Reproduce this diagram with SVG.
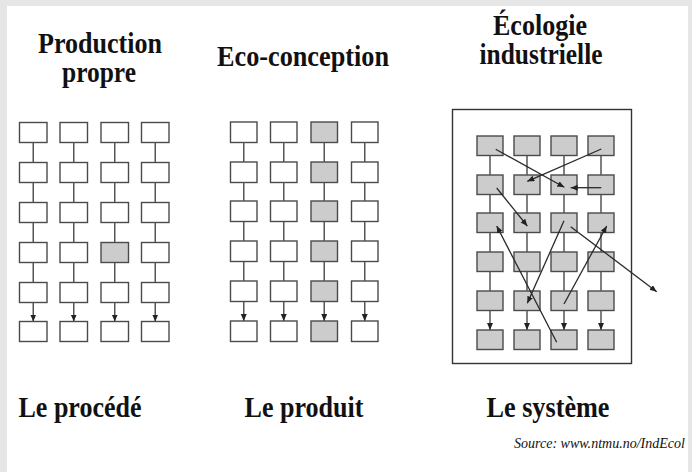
<svg xmlns="http://www.w3.org/2000/svg" width="692" height="472" viewBox="0 0 692 472">
<defs>
<style>
.b{fill:#ffffff;stroke:#4a4a4a;stroke-width:1.4}
.s{fill:#cccccc;stroke:#4a4a4a;stroke-width:1.4}
.v{stroke:#555555;stroke-width:1.5;fill:none}
.va{stroke:#555555;stroke-width:1.5;fill:none;marker-end:url(#ah)}
.x{stroke:#2a2a2a;stroke-width:1.3;fill:none;marker-end:url(#ah)}
.t{font-family:"Liberation Serif","Times New Roman",serif;font-weight:bold;font-size:28.5px;fill:#111111;text-anchor:middle}
.src{font-family:"Liberation Serif","Times New Roman",serif;font-style:italic;font-size:14px;fill:#111111}
</style>
<marker id="ah" markerUnits="userSpaceOnUse" markerWidth="8" markerHeight="7" refX="7" refY="3" orient="auto">
<path d="M0,0 L7,3 L0,6 z" fill="#222222"/>
</marker>
</defs>
<rect x="0" y="0" width="692" height="472" fill="#e6e6e6"/>
<rect x="7" y="6" width="681" height="466" fill="#ffffff"/>

<g id="titles">
<text class="t" x="100" y="53" textLength="124" lengthAdjust="spacingAndGlyphs">Production</text>
<text class="t" x="99" y="82" textLength="74" lengthAdjust="spacingAndGlyphs">propre</text>
<text class="t" x="303" y="66" textLength="172" lengthAdjust="spacingAndGlyphs">Eco-conception</text>
<text class="t" x="540" y="35" textLength="94" lengthAdjust="spacingAndGlyphs">Écologie</text>
<text class="t" x="541" y="64" textLength="123" lengthAdjust="spacingAndGlyphs">industrielle</text>
<text class="t" x="80" y="417" textLength="123" lengthAdjust="spacingAndGlyphs">Le procédé</text>
<text class="t" x="304" y="417" textLength="119" lengthAdjust="spacingAndGlyphs">Le produit</text>
<text class="t" x="548" y="417" textLength="123" lengthAdjust="spacingAndGlyphs">Le système</text>
<text class="src" x="514" y="448" textLength="171" lengthAdjust="spacingAndGlyphs">Source: www.ntmu.no/IndEcol</text>
</g>

<g id="procede">
<g id="p11"><rect class="b" x="19.5" y="122.5" width="27.5" height="20"/></g>
<g id="p12"><rect class="b" x="60" y="122.5" width="27.5" height="20"/></g>
<g id="p13"><rect class="b" x="101" y="122.5" width="27.5" height="20"/></g>
<g id="p14"><rect class="b" x="141.5" y="122.5" width="27.5" height="20"/></g>
<g id="p21"><rect class="b" x="19.5" y="162.5" width="27.5" height="20"/></g>
<g id="p22"><rect class="b" x="60" y="162.5" width="27.5" height="20"/></g>
<g id="p23"><rect class="b" x="101" y="162.5" width="27.5" height="20"/></g>
<g id="p24"><rect class="b" x="141.5" y="162.5" width="27.5" height="20"/></g>
<g id="p31"><rect class="b" x="19.5" y="202.5" width="27.5" height="20"/></g>
<g id="p32"><rect class="b" x="60" y="202.5" width="27.5" height="20"/></g>
<g id="p33"><rect class="b" x="101" y="202.5" width="27.5" height="20"/></g>
<g id="p34"><rect class="b" x="141.5" y="202.5" width="27.5" height="20"/></g>
<g id="p41"><rect class="b" x="19.5" y="242.5" width="27.5" height="20"/></g>
<g id="p42"><rect class="b" x="60" y="242.5" width="27.5" height="20"/></g>
<g id="p43"><rect class="s" x="101" y="242.5" width="27.5" height="20"/></g>
<g id="p44"><rect class="b" x="141.5" y="242.5" width="27.5" height="20"/></g>
<g id="p51"><rect class="b" x="19.5" y="282.5" width="27.5" height="20"/></g>
<g id="p52"><rect class="b" x="60" y="282.5" width="27.5" height="20"/></g>
<g id="p53"><rect class="b" x="101" y="282.5" width="27.5" height="20"/></g>
<g id="p54"><rect class="b" x="141.5" y="282.5" width="27.5" height="20"/></g>
<g id="p61"><rect class="b" x="19.5" y="321.5" width="27.5" height="20"/></g>
<g id="p62"><rect class="b" x="60" y="321.5" width="27.5" height="20"/></g>
<g id="p63"><rect class="b" x="101" y="321.5" width="27.5" height="20"/></g>
<g id="p64"><rect class="b" x="141.5" y="321.5" width="27.5" height="20"/></g>
</g>

<g id="produit">
<g id="m11"><rect class="b" x="230.5" y="122" width="26.5" height="20.5"/></g>
<g id="m12"><rect class="b" x="270.5" y="122" width="26.5" height="20.5"/></g>
<g id="m13"><rect class="s" x="311" y="122" width="26.5" height="20.5"/></g>
<g id="m14"><rect class="b" x="351.5" y="122" width="26.5" height="20.5"/></g>
<g id="m21"><rect class="b" x="230.5" y="162" width="26.5" height="20.5"/></g>
<g id="m22"><rect class="b" x="270.5" y="162" width="26.5" height="20.5"/></g>
<g id="m23"><rect class="s" x="311" y="162" width="26.5" height="20.5"/></g>
<g id="m24"><rect class="b" x="351.5" y="162" width="26.5" height="20.5"/></g>
<g id="m31"><rect class="b" x="230.5" y="201" width="26.5" height="20.5"/></g>
<g id="m32"><rect class="b" x="270.5" y="201" width="26.5" height="20.5"/></g>
<g id="m33"><rect class="s" x="311" y="201" width="26.5" height="20.5"/></g>
<g id="m34"><rect class="b" x="351.5" y="201" width="26.5" height="20.5"/></g>
<g id="m41"><rect class="b" x="230.5" y="241" width="26.5" height="20.5"/></g>
<g id="m42"><rect class="b" x="270.5" y="241" width="26.5" height="20.5"/></g>
<g id="m43"><rect class="s" x="311" y="241" width="26.5" height="20.5"/></g>
<g id="m44"><rect class="b" x="351.5" y="241" width="26.5" height="20.5"/></g>
<g id="m51"><rect class="b" x="230.5" y="281" width="26.5" height="20.5"/></g>
<g id="m52"><rect class="b" x="270.5" y="281" width="26.5" height="20.5"/></g>
<g id="m53"><rect class="s" x="311" y="281" width="26.5" height="20.5"/></g>
<g id="m54"><rect class="b" x="351.5" y="281" width="26.5" height="20.5"/></g>
<g id="m61"><rect class="b" x="230.5" y="321" width="26.5" height="20.5"/></g>
<g id="m62"><rect class="b" x="270.5" y="321" width="26.5" height="20.5"/></g>
<g id="m63"><rect class="s" x="311" y="321" width="26.5" height="20.5"/></g>
<g id="m64"><rect class="b" x="351.5" y="321" width="26.5" height="20.5"/></g>
</g>

<g id="systeme">
<g id="frame"><rect x="452.5" y="109.5" width="179" height="254" fill="none" stroke="#333333" stroke-width="1.4"/></g>
<g id="s11"><rect class="s" x="477" y="136" width="26" height="19.5"/></g>
<g id="s12"><rect class="s" x="514" y="136" width="26" height="19.5"/></g>
<g id="s13"><rect class="s" x="551" y="136" width="26" height="19.5"/></g>
<g id="s14"><rect class="s" x="588" y="136" width="26" height="19.5"/></g>
<g id="s21"><rect class="s" x="477" y="175" width="26" height="19.5"/></g>
<g id="s22"><rect class="s" x="514" y="175" width="26" height="19.5"/></g>
<g id="s23"><rect class="s" x="551" y="175" width="26" height="19.5"/></g>
<g id="s24"><rect class="s" x="588" y="175" width="26" height="19.5"/></g>
<g id="s31"><rect class="s" x="477" y="213" width="26" height="19.5"/></g>
<g id="s32"><rect class="s" x="514" y="213" width="26" height="19.5"/></g>
<g id="s33"><rect class="s" x="551" y="213" width="26" height="19.5"/></g>
<g id="s34"><rect class="s" x="588" y="213" width="26" height="19.5"/></g>
<g id="s41"><rect class="s" x="477" y="252" width="26" height="19.5"/></g>
<g id="s42"><rect class="s" x="514" y="252" width="26" height="19.5"/></g>
<g id="s43"><rect class="s" x="551" y="252" width="26" height="19.5"/></g>
<g id="s44"><rect class="s" x="588" y="252" width="26" height="19.5"/></g>
<g id="s51"><rect class="s" x="477" y="291" width="26" height="19.5"/></g>
<g id="s52"><rect class="s" x="514" y="291" width="26" height="19.5"/></g>
<g id="s53"><rect class="s" x="551" y="291" width="26" height="19.5"/></g>
<g id="s54"><rect class="s" x="588" y="291" width="26" height="19.5"/></g>
<g id="s61"><rect class="s" x="477" y="330" width="26" height="19.5"/></g>
<g id="s62"><rect class="s" x="514" y="330" width="26" height="19.5"/></g>
<g id="s63"><rect class="s" x="551" y="330" width="26" height="19.5"/></g>
<g id="s64"><rect class="s" x="588" y="330" width="26" height="19.5"/></g>
</g>

<g id="connectors">
<path class="v" d="M33.25,142.5V162.5M33.25,182.5V202.5M33.25,222.5V242.5M33.25,262.5V282.5"/>
<path class="v" d="M73.75,142.5V162.5M73.75,182.5V202.5M73.75,222.5V242.5M73.75,262.5V282.5"/>
<path class="v" d="M114.75,142.5V162.5M114.75,182.5V202.5M114.75,222.5V242.5M114.75,262.5V282.5"/>
<path class="v" d="M155.25,142.5V162.5M155.25,182.5V202.5M155.25,222.5V242.5M155.25,262.5V282.5"/>
<line class="va" x1="33.25" y1="302.5" x2="33.25" y2="321.5"/>
<line class="va" x1="73.75" y1="302.5" x2="73.75" y2="321.5"/>
<line class="va" x1="114.75" y1="302.5" x2="114.75" y2="321.5"/>
<line class="va" x1="155.25" y1="302.5" x2="155.25" y2="321.5"/>
<path class="v" d="M243.75,142.5V162M243.75,182.5V201M243.75,221.5V241M243.75,261.5V281"/>
<path class="v" d="M283.75,142.5V162M283.75,182.5V201M283.75,221.5V241M283.75,261.5V281"/>
<path class="v" d="M324.25,142.5V162M324.25,182.5V201M324.25,221.5V241M324.25,261.5V281"/>
<path class="v" d="M364.75,142.5V162M364.75,182.5V201M364.75,221.5V241M364.75,261.5V281"/>
<line class="va" x1="243.75" y1="301.5" x2="243.75" y2="321"/>
<line class="va" x1="283.75" y1="301.5" x2="283.75" y2="321"/>
<line class="va" x1="324.25" y1="301.5" x2="324.25" y2="321"/>
<line class="va" x1="364.75" y1="301.5" x2="364.75" y2="321"/>
<path class="v" d="M490,155.5V175M490,194.5V213M490,232.5V252M490,271.5V291"/>
<path class="v" d="M527,155.5V175M527,194.5V213M527,232.5V252M527,271.5V291"/>
<path class="v" d="M564,155.5V175M564,194.5V213M564,232.5V252M564,271.5V291"/>
<path class="v" d="M601,155.5V175M601,194.5V213M601,232.5V252M601,271.5V291"/>
<line class="va" x1="490" y1="310.5" x2="490" y2="330"/>
<line class="va" x1="527" y1="310.5" x2="527" y2="330"/>
<line class="va" x1="564" y1="310.5" x2="564" y2="330"/>
<line class="va" x1="601" y1="310.5" x2="601" y2="330"/>
<line class="x" x1="495.7" y1="149.3" x2="564.3" y2="187.3"/>
<line class="x" x1="601.3" y1="149" x2="527.3" y2="181.3"/>
<line class="x" x1="601.3" y1="187.7" x2="570.7" y2="187.7"/>
<line class="x" x1="496.7" y1="188" x2="527.3" y2="226"/>
<line class="x" x1="556.7" y1="342.3" x2="496.7" y2="226"/>
<line class="x" x1="564" y1="220.7" x2="527.3" y2="303.3"/>
<line class="x" x1="564" y1="304" x2="606.7" y2="226"/>
<line class="x" x1="570.7" y1="226.7" x2="656.7" y2="291.7"/>
</g>
</svg>
